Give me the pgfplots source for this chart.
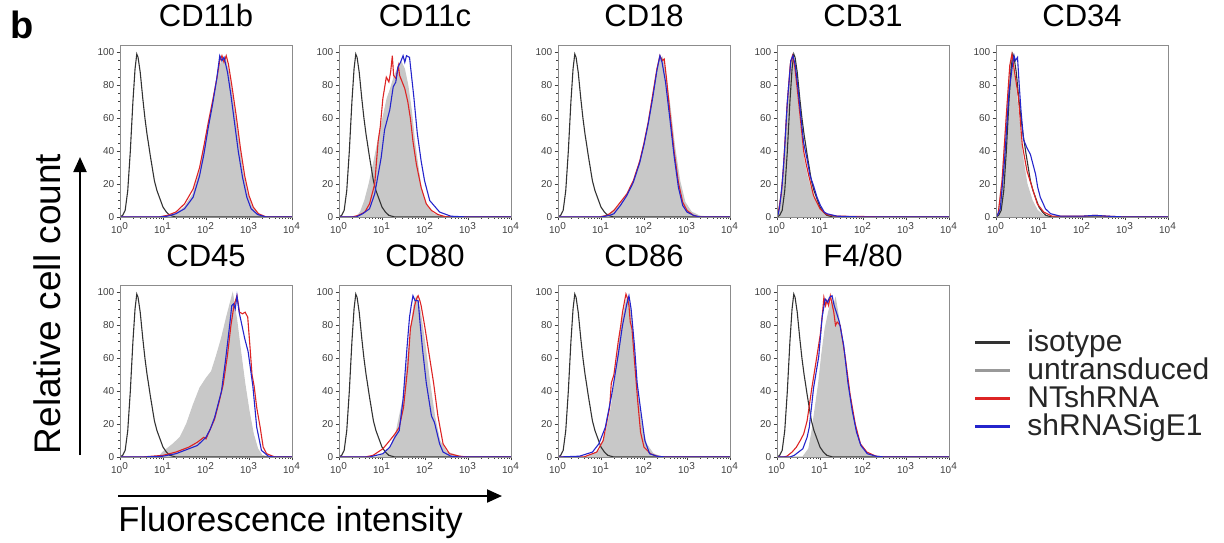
\documentclass[border=0pt]{standalone}
\usepackage{fontspec}
\setmainfont{Liberation Sans}
\usepackage{pgfplots}
\usepackage{pgfplotstable}
\pgfplotsset{compat=1.18}
\usetikzlibrary{arrows.meta}

\definecolor{iso}{HTML}{333333}
\definecolor{untr}{HTML}{C8C8C8}
\definecolor{ntred}{HTML}{DD2424}
\definecolor{sgblue}{HTML}{2424CC}

% isotype control, same in every panel (x in decades)
\pgfplotstableread{
x y
0 0
0.06 1
0.12 4
0.18 16
0.24 40
0.30 70
0.35 90
0.39 99
0.42 97
0.47 88
0.53 72
0.58 60
0.63 50
0.66 45
0.70 38
0.75 30
0.80 22
0.86 16
0.93 11
1.00 6
1.08 3
1.16 1
1.30 0
4.00 0
}\iso

\pgfplotsset{facs/.style={
  scale only axis, width=86pt, height=86pt,
  xmin=0, xmax=4, ymin=0, ymax=104.5,
  axis on top,
  xtick={0,1,2,3,4},
  xticklabels={10\textsuperscript{0},10\textsuperscript{1},10\textsuperscript{2},10\textsuperscript{3},10\textsuperscript{4}},
  minor xtick={0.301,0.477,0.602,0.699,0.778,0.845,0.903,0.954,
    1.301,1.477,1.602,1.699,1.778,1.845,1.903,1.954,
    2.301,2.477,2.602,2.699,2.778,2.845,2.903,2.954,
    3.301,3.477,3.602,3.699,3.778,3.845,3.903,3.954},
  ytick={0,20,40,60,80,100}, minor y tick num=3,
  tick align=outside, tick pos=left,
  major tick length=1.7pt, minor tick length=0.9pt,
  every tick/.style={black!75, line width=0.3pt},
  axis line style={black!45, line width=0.4pt},
  tick label style={font=\fontsize{5}{6}\selectfont, text=black!75},
  /pgf/number format/assume math mode=true,
  xticklabel style={inner sep=1pt},
  yticklabel style={inner sep=1pt},
  title style={at={(0.5,1)}, anchor=base, yshift=3.5pt, font=\fontsize{15.5}{16}\selectfont},
  every axis plot/.append style={line width=0.55pt},
  anchor=south west,
}}

\begin{document}
\begin{tikzpicture}[x=0.5pt,y=-0.5pt]
\useasboundingbox (0,0) rectangle (1224,542);

% ---- row 1 ----
\begin{axis}[facs, at={(60pt,-108.5pt)}, title={CD11b}]
\addplot[fill=untr, draw=untr] coordinates {(0,0)(0.9,0)(1.1,0.5)(1.3,2)(1.5,6)(1.7,14)(1.85,27)(1.95,40)(2.05,55)(2.15,68)(2.25,82)(2.33,92)(2.40,97)(2.46,95)(2.52,88)(2.60,75)(2.68,60)(2.76,45)(2.85,28)(2.95,15)(3.05,7)(3.15,3)(3.3,0.5)(3.5,0)(4,0)} \closedcycle;
\addplot[draw=iso] table {\iso};
\addplot[draw=ntred] coordinates {(0,0)(0.9,0)(1.1,1)(1.3,3)(1.5,8)(1.7,17)(1.85,30)(1.95,43)(2.05,57)(2.15,70)(2.25,84)(2.32,95)(2.37,98)(2.42,94)(2.47,98)(2.52,93)(2.60,80)(2.70,62)(2.80,42)(2.90,25)(3.00,13)(3.10,6)(3.22,2)(3.4,0)(4,0)};
\addplot[draw=sgblue] coordinates {(0,0)(0.9,0)(1.1,0.5)(1.3,2)(1.5,5)(1.7,12)(1.85,25)(1.95,38)(2.05,54)(2.15,68)(2.25,84)(2.32,98)(2.37,95)(2.42,97)(2.50,88)(2.58,74)(2.66,58)(2.75,40)(2.85,24)(2.95,12)(3.05,5)(3.2,1.5)(3.4,0)(4,0)};
\end{axis}

\begin{axis}[facs, at={(169.5pt,-108.5pt)}, title={CD11c}]
\addplot[fill=untr, draw=untr] coordinates {(0,0)(0.4,0)(0.5,3)(0.6,10)(0.7,20)(0.8,32)(0.9,45)(1.02,60)(1.12,72)(1.2,78)(1.28,85)(1.36,90)(1.45,94)(1.52,90)(1.6,80)(1.68,65)(1.76,45)(1.84,30)(1.91,17)(2.03,7)(2.19,2)(2.4,0)(4,0)} \closedcycle;
\addplot[draw=iso] table {\iso};
\addplot[draw=ntred] coordinates {(0,0)(0.3,0)(0.45,1)(0.6,3)(0.71,8)(0.83,20)(0.91,46)(0.96,55)(1.02,72)(1.10,85)(1.16,82)(1.2,88)(1.24,98)(1.27,86)(1.33,84)(1.38,92)(1.41,86)(1.47,82)(1.53,78)(1.6,70)(1.66,60)(1.72,46)(1.80,32)(1.91,18)(2.03,8)(2.15,4)(2.3,1.5)(2.5,0)(4,0)};
\addplot[draw=sgblue] coordinates {(0,0)(0.4,0)(0.55,2)(0.71,5)(0.83,14)(0.98,36)(1.06,53)(1.18,65)(1.26,79)(1.32,82)(1.37,91)(1.43,94)(1.49,98)(1.53,94)(1.57,98)(1.64,97)(1.74,73)(1.82,51)(1.91,34)(1.99,22)(2.11,10)(2.34,3)(2.6,0.5)(3.0,0)(4,0)};
\end{axis}

\begin{axis}[facs, at={(279pt,-108.5pt)}, title={CD18}]
\addplot[fill=untr, draw=untr] coordinates {(0,0)(1.0,0)(1.2,2)(1.43,7)(1.67,15)(1.82,25)(1.98,40)(2.13,60)(2.25,80)(2.36,95)(2.42,97)(2.48,90)(2.60,68)(2.71,43)(2.83,22)(2.95,9)(3.10,3)(3.3,0.5)(3.5,0)(4,0)} \closedcycle;
\addplot[draw=iso] table {\iso};
\addplot[draw=ntred] coordinates {(0,0)(0.95,0)(1.15,1)(1.3,4)(1.45,9)(1.6,14)(1.75,22)(1.9,34)(2.0,45)(2.1,58)(2.2,74)(2.3,90)(2.37,98)(2.43,95)(2.47,96)(2.52,85)(2.6,64)(2.7,40)(2.8,21)(2.9,9)(3.0,4)(3.15,1)(3.3,0)(4,0)};
\addplot[draw=sgblue] coordinates {(0,0)(1.0,0)(1.2,1)(1.3,2)(1.45,7)(1.6,13)(1.75,21)(1.9,33)(2.0,44)(2.1,57)(2.2,72)(2.3,89)(2.37,98)(2.42,94)(2.5,82)(2.6,60)(2.7,37)(2.8,18)(2.9,7)(3.0,3)(3.15,1)(3.3,0)(4,0)};
\end{axis}

\begin{axis}[facs, at={(388.5pt,-108.5pt)}, title={CD31}]
\addplot[fill=untr, draw=untr] coordinates {(0,0)(0.04,3)(0.1,15)(0.15,30)(0.23,65)(0.31,92)(0.36,98)(0.41,90)(0.46,75)(0.54,55)(0.62,35)(0.7,25)(0.77,18)(0.89,10)(1.01,5)(1.12,1.5)(1.3,0)(4,0)} \closedcycle;
\addplot[draw=iso] table {\iso};
\addplot[draw=ntred] coordinates {(0,0)(0.03,3)(0.1,14)(0.15,30)(0.23,66)(0.31,93)(0.36,98)(0.41,92)(0.47,78)(0.55,58)(0.62,40)(0.68,32)(0.74,25)(0.85,13)(1.0,5)(1.15,1.5)(1.4,0.5)(2.0,0.3)(2.5,0)(4,0)};
\addplot[draw=sgblue] coordinates {(0,3)(0.03,2)(0.06,6)(0.12,20)(0.17,38)(0.24,70)(0.32,95)(0.37,98)(0.42,93)(0.48,80)(0.55,62)(0.62,45)(0.7,35)(0.77,25)(0.85,19)(0.93,12)(1.01,7)(1.1,3)(1.16,2)(1.4,0.5)(2.0,0)(4,0)};
\end{axis}

\begin{axis}[facs, at={(498pt,-108.5pt)}, title={CD34}]
\addplot[fill=untr, draw=untr] coordinates {(0,0)(0.05,2)(0.15,25)(0.25,65)(0.33,92)(0.37,98)(0.42,88)(0.5,68)(0.56,52)(0.61,38)(0.72,20)(0.84,10)(0.96,4)(1.1,1)(1.3,0)(4,0)} \closedcycle;
\addplot[draw=iso] table {\iso};
\addplot[draw=ntred] coordinates {(0,0)(0.05,2)(0.14,22)(0.24,62)(0.32,92)(0.37,99)(0.42,90)(0.52,73)(0.61,44)(0.72,28)(0.84,18)(0.96,8)(1.11,3)(1.3,0.5)(2.0,0.5)(2.3,1)(2.6,0.5)(3.0,0)(4,0)};
\addplot[draw=sgblue] coordinates {(0,0)(0.03,1)(0.1,5)(0.2,35)(0.3,75)(0.38,92)(0.42,98)(0.45,95)(0.5,97)(0.54,80)(0.58,65)(0.64,47)(0.72,42)(0.80,38)(0.86,32)(0.92,26)(0.97,18)(1.03,12)(1.15,5)(1.27,2)(1.5,0.5)(2.0,0.5)(2.3,1)(2.6,0.5)(3.0,0)(4,0)};
\end{axis}

% ---- row 2 ----
\begin{axis}[facs, at={(60pt,-228.5pt)}, title={CD45}]
\addplot[fill=untr, draw=untr] coordinates {(0,0)(0.9,0)(1.0,3)(1.24,8)(1.40,12)(1.55,20)(1.71,32)(1.86,42)(2.01,48)(2.13,52)(2.25,62)(2.36,72)(2.48,85)(2.56,93)(2.62,99)(2.67,90)(2.71,84)(2.80,65)(2.90,45)(3.0,28)(3.1,14)(3.2,5)(3.3,1)(3.45,0)(4,0)} \closedcycle;
\addplot[draw=iso] table {\iso};
\addplot[draw=ntred] coordinates {(0,0)(0.5,0)(1.0,1)(1.3,3)(1.6,6)(1.8,9)(1.95,12)(2.0,11)(2.1,17)(2.2,23)(2.3,33)(2.4,44)(2.5,62)(2.58,80)(2.65,92)(2.72,98)(2.78,88)(2.85,87)(2.91,88)(2.97,85)(3.02,68)(3.07,50)(3.12,43)(3.18,30)(3.26,18)(3.33,6)(3.41,2)(3.6,0)(4,0)};
\addplot[draw=sgblue] coordinates {(0,0)(0.5,0)(1.0,0.5)(1.3,2)(1.5,4)(1.8,7)(2.0,12)(2.1,17)(2.2,24)(2.3,34)(2.36,40)(2.45,58)(2.55,80)(2.6,92)(2.64,93)(2.68,90)(2.72,98)(2.77,88)(2.82,82)(2.9,72)(2.98,64)(3.09,43)(3.18,18)(3.29,4)(3.45,0.5)(3.6,0)(4,0)};
\end{axis}

\begin{axis}[facs, at={(169.5pt,-228.5pt)}, title={CD80}]
\addplot[fill=untr, draw=untr] coordinates {(0,0)(0.9,0)(1.05,2)(1.18,5)(1.33,15)(1.49,35)(1.6,60)(1.68,80)(1.76,95)(1.8,97)(1.88,90)(1.99,70)(2.11,45)(2.22,25)(2.34,10)(2.5,3)(2.73,1)(2.9,0)(4,0)} \closedcycle;
\addplot[draw=iso] table {\iso};
\addplot[draw=ntred] coordinates {(0,0)(0.6,0)(0.79,1)(1.02,5)(1.18,10)(1.3,14)(1.4,18)(1.5,30)(1.6,55)(1.66,78)(1.72,86)(1.76,92)(1.8,96)(1.84,98)(1.88,95)(1.91,92)(1.99,80)(2.05,70)(2.11,60)(2.2,45)(2.3,25)(2.42,8)(2.57,2)(2.8,0.5)(3.0,0)(4,0)};
\addplot[draw=sgblue] coordinates {(0,0)(0.7,0)(1.02,2)(1.18,6)(1.3,12)(1.4,16)(1.49,35)(1.58,66)(1.64,85)(1.68,92)(1.72,98)(1.77,95)(1.84,95)(1.89,80)(1.94,66)(2.03,45)(2.15,25)(2.22,21)(2.34,8)(2.42,3)(2.6,0.5)(2.8,0)(4,0)};
\end{axis}

\begin{axis}[facs, at={(279pt,-228.5pt)}, title={CD86}]
\addplot[fill=untr, draw=untr] coordinates {(0,0)(0.7,0)(0.97,4)(1.12,15)(1.24,30)(1.36,55)(1.47,80)(1.59,95)(1.63,97)(1.71,85)(1.78,60)(1.86,35)(1.94,20)(2.05,8)(2.21,2)(2.4,0)(4,0)} \closedcycle;
\addplot[draw=iso] table {\iso};
\addplot[draw=ntred] coordinates {(0,0)(0.6,0)(0.9,3)(1.05,10)(1.2,30)(1.24,45)(1.3,50)(1.4,70)(1.46,80)(1.5,88)(1.55,95)(1.58,99)(1.62,96)(1.65,92)(1.68,82)(1.72,78)(1.78,58)(1.85,35)(1.92,15)(2.0,6)(2.15,2)(2.3,0.5)(2.5,0)(4,0)};
\addplot[draw=sgblue] coordinates {(0,0)(0.5,0.5)(0.8,3)(0.95,8)(1.1,18)(1.25,38)(1.4,62)(1.5,80)(1.6,93)(1.65,98)(1.7,90)(1.78,67)(1.84,45)(1.91,31)(2.02,10)(2.13,2)(2.3,0.5)(2.5,0)(4,0)};
\end{axis}

\begin{axis}[facs, at={(388.5pt,-228.5pt)}, title={F4/80}]
\addplot[fill=untr, draw=untr] coordinates {(0,0)(0.6,0)(0.74,5)(0.81,15)(0.89,30)(0.97,45)(1.04,62)(1.12,78)(1.2,88)(1.27,95)(1.32,92)(1.36,96)(1.43,85)(1.55,65)(1.66,40)(1.78,22)(1.9,10)(2.01,4)(2.17,1)(2.4,0)(4,0)} \closedcycle;
\addplot[draw=iso] table {\iso};
\addplot[draw=ntred] coordinates {(0,0)(0.15,0)(0.23,0.5)(0.35,3)(0.45,6)(0.54,10)(0.62,14)(0.7,22)(0.81,42)(0.89,55)(1.01,75)(1.06,88)(1.09,97)(1.13,92)(1.16,95)(1.2,92)(1.24,98)(1.28,93)(1.32,88)(1.36,80)(1.4,82)(1.47,80)(1.53,70)(1.59,60)(1.7,38)(1.82,20)(1.94,8)(2.09,3)(2.3,0.5)(2.5,0)(4,0)};
\addplot[draw=sgblue] coordinates {(0,0)(0.3,0)(0.4,1)(0.6,5)(0.7,12)(0.75,18)(0.85,42)(0.97,61)(1.05,85)(1.12,96)(1.18,94)(1.22,97)(1.28,98)(1.33,92)(1.38,88)(1.45,82)(1.55,68)(1.65,45)(1.75,28)(1.85,15)(1.95,7)(2.1,2)(2.3,0.5)(2.5,0)(4,0)};
\end{axis}

% panel letter and axis captions
\node[anchor=base west, font=\bfseries\fontsize{19}{20}\selectfont, inner sep=0pt] at (10,38) {b};
\draw[line width=1pt, -{Triangle[length=7.5pt,width=6.5pt]}] (80,455) -- (80,157);
\node[rotate=90, anchor=base, font=\fontsize{18.5}{19}\selectfont, inner sep=0pt] at (60,304) {Relative cell count};
\draw[line width=1pt, -{Triangle[length=7.5pt,width=6.5pt]}] (118,496) -- (502,496);
\node[anchor=base west, font=\fontsize{17.3}{18}\selectfont, inner sep=0pt] at (118,531) {Fluorescence intensity};

% legend
\foreach \c/\t [count=\i from 0] in {iso/isotype, black!40/untransduced, ntred/NTshRNA, sgblue/shRNASigE1} {
  \draw[\c, line width=1.5pt] (975,342+28*\i) -- (1010,342+28*\i);
  \node[anchor=base west, font=\fontsize{15}{16}\selectfont, inner sep=0pt, text=black!85] at (1027,351+28*\i) {\t};
}
\end{tikzpicture}
\end{document}
